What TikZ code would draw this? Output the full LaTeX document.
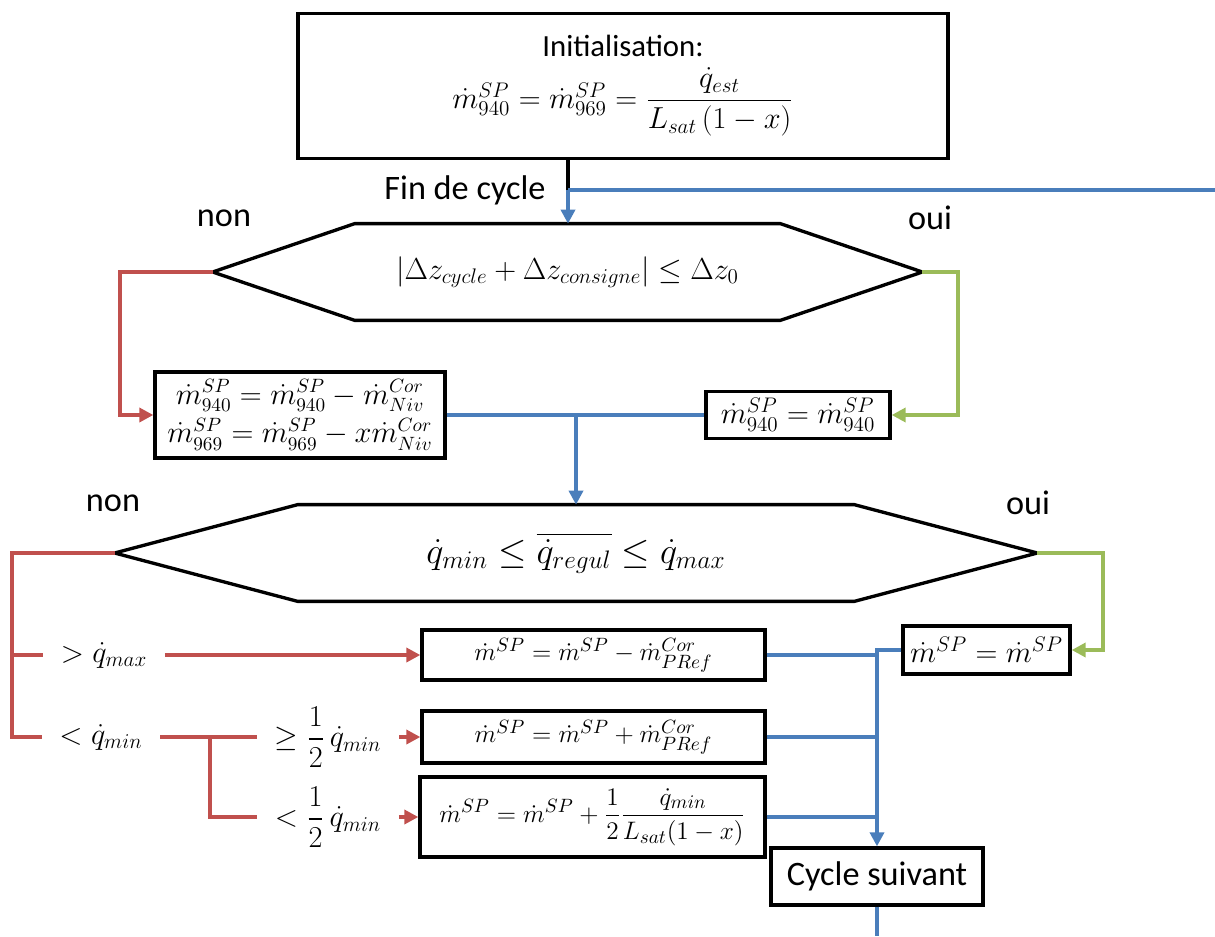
\documentclass[tikz,border=0pt]{standalone}
\usepackage{amsmath}
\usepackage[no-math]{fontspec}
\setmainfont{Carlito}
\usetikzlibrary{arrows.meta}
\definecolor{flred}{RGB}{192,80,77}
\definecolor{flblue}{RGB}{74,126,187}
\definecolor{flgreen}{RGB}{155,187,89}

\begin{document}
\begin{tikzpicture}[
  x=0.2mm, y=-0.2mm,
  box/.style={draw, line width=1.9pt, align=center, inner sep=1pt,
              font=\fontsize{16.5}{20}\selectfont},
  hexa/.style={inner sep=0pt, minimum height=1.92cm,
               font=\fontsize{18.5}{21}\selectfont},
  lbl/.style={inner xsep=3.5mm, inner ysep=0pt, font=\fontsize{17}{20}\selectfont},
  txt/.style={inner sep=1pt, font=\fontsize{19.5}{23}\selectfont},
  blk/.style={line width=1.9pt},
  redl/.style={flred, line width=2.3pt},
  bluel/.style={flblue, line width=2.3pt},
  greenl/.style={flgreen, line width=2.3pt},
  arr/.style={-{Triangle[length=8pt,width=8pt]}},
]
\useasboundingbox (0,0) rectangle (1215,936);

% ---- Initialisation ----
\node[box, minimum width=13cm, minimum height=2.9cm,
      font=\fontsize{18.5}{22}\selectfont] (init) at (623,86)
  {{\fontsize{17.5}{21}\selectfont Initialisation:}\\[5pt]
   $\dot{m}^{SP}_{940}=\dot{m}^{SP}_{969}=\dfrac{\dot{q}_{est}}{L_{sat}\,(1-x)}$};

\coordinate (c0) at (568,190);
\coordinate (loopR) at (1215,190);
\node[txt] (fin) at (465,190) {Fin de cycle};

% ---- first test ----
\node[hexa, minimum width=14.18cm] (h1) at (567.5,272)
  {$\left|\Delta z_{cycle}+\Delta z_{consigne}\right|\leq\Delta z_0$};
\node[txt] (non1) at (224,218) {non};
\node[txt] (oui1) at (930,218) {oui};

\node[box, minimum width=5.8cm, minimum height=1.72cm,
      font=\fontsize{16}{19}\selectfont] (bA) at (300,415)
  {$\dot{m}^{SP}_{940}=\dot{m}^{SP}_{940}-\dot{m}^{Cor}_{Niv}$\\[3pt]
   $\dot{m}^{SP}_{969}=\dot{m}^{SP}_{969}-x\dot{m}^{Cor}_{Niv}$};
\node[box, minimum width=3.68cm, minimum height=0.94cm] (bB) at (798,415)
  {$\dot{m}^{SP}_{940}=\dot{m}^{SP}_{940}$};

% ---- second test ----
\node[hexa, minimum width=18.44cm, font=\fontsize{20.5}{24}\selectfont] (h2) at (576,553)
  {$\dot{q}_{min}\leq\overline{\dot{q}_{regul}}\leq\dot{q}_{max}$};
\node[txt] (non2) at (113,503) {non};
\node[txt] (oui2) at (1028,503) {oui};

\foreach \h/\c in {h1/142,h2/183}
  \draw[blk] (\h.west) -- ([xshift=\c*0.2mm]\h.north west)
    -- ([xshift=-\c*0.2mm]\h.north east) -- (\h.east)
    -- ([xshift=-\c*0.2mm]\h.south east)
    -- ([xshift=\c*0.2mm]\h.south west) -- cycle;

% ---- corrections ----
\node[lbl] (lmax) at (104,655) {$>\dot{q}_{max}$};
\node[lbl] (lmin) at (101,737) {$<\dot{q}_{min}$};
\node[lbl] (lge) at (328,737) {$\geq\dfrac{1}{2}\,\dot{q}_{min}$};
\node[lbl] (llt) at (328,817) {$<\dfrac{1}{2}\,\dot{q}_{min}$};
\coordinate (fk) at (210,737);

\node[box, minimum width=6.86cm, minimum height=1.0cm,
      font=\fontsize{15}{18}\selectfont] (bC) at (593.5,655)
  {$\dot{m}^{SP}=\dot{m}^{SP}-\dot{m}^{Cor}_{PRef}$};
\node[box, minimum width=6.86cm, minimum height=1.04cm,
      font=\fontsize{15}{18}\selectfont] (bD) at (593.5,737)
  {$\dot{m}^{SP}=\dot{m}^{SP}+\dot{m}^{Cor}_{PRef}$};
\node[box, minimum width=6.9cm, minimum height=1.6cm,
      font=\fontsize{15.5}{19}\selectfont] (bE) at (592.5,817)
  {$\dot{m}^{SP}=\dot{m}^{SP}+\dfrac{1}{2}\dfrac{\dot{q}_{min}}{L_{sat}(1-x)}$};
\node[box, minimum width=3.34cm, minimum height=0.96cm] (bF) at (986.5,650)
  {$\dot{m}^{SP}=\dot{m}^{SP}$};

\node[box, minimum width=4.24cm, minimum height=1.14cm,
      font=\fontsize{19.5}{23}\selectfont] (cyc) at (877,876.5)
  {Cycle suivant};
\coordinate (loopB) at (877,936);

% ---- connections ----
\draw[blk] (init.south -| c0) -- (c0);
\draw[bluel] (c0) -- (loopR);
\draw[bluel, arr] (c0) -- (h1.north -| c0);

\draw[redl, arr] (h1.west) -- ++(-93,0) |- (bA.west);
\draw[greenl, arr] (h1.east) -- ++(36,0) |- (bB.east);
\draw[bluel] (bA.east) -- (bB.west);
\draw[bluel, arr] (bA.east -| h2.north) -- (h2.north);

\draw[redl] (h2.west) -- ++(-103,0) coordinate (tr) |- (lmin.west);
\draw[redl] (tr |- lmax) -- (lmax.west);
\draw[redl, arr] (lmax) -- (bC);
\draw[redl] (lmin.east) -- (lge.west);
\draw[redl] (fk) |- (llt.west);
\draw[redl, arr] (lge) -- (bD);
\draw[redl, arr] (llt) -- (bE);
\draw[greenl, arr] (h2.east) -- ++(66,0) |- (bF.east);

\draw[bluel, arr] (bF.west) -| (cyc.north);
\draw[bluel] (bC.east) -- (bC.east -| cyc.north);
\draw[bluel] (bD.east) -- (bD.east -| cyc.north);
\draw[bluel] (bE.east) -- (bE.east -| cyc.north);
\draw[bluel] (cyc.south) -- (loopB);

\end{tikzpicture}
\end{document}
